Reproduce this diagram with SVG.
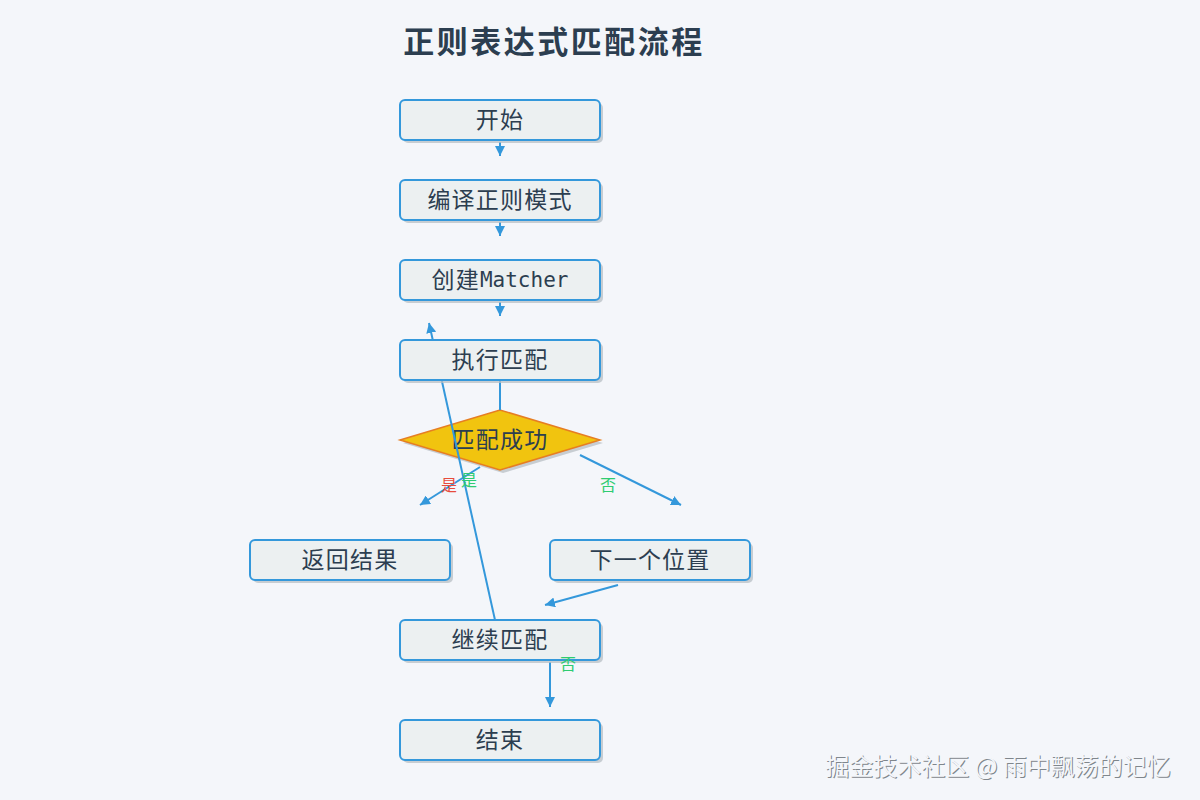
<svg xmlns="http://www.w3.org/2000/svg" width="1200" height="800" viewBox="0 0 1200 800">
<defs>
<marker id="arr" viewBox="0 0 10 10" refX="10" refY="5" markerWidth="10" markerHeight="10" markerUnits="userSpaceOnUse" orient="auto">
<path d="M0,0 L10,5 L0,10 z" fill="#3498db"/>
</marker>
<style>
.box{fill:#ecf0f1;stroke:#3498db;stroke-width:2}
.sh{fill:#b8bfc4;opacity:0.75}
.t{font-family:"DejaVu Sans Mono","Noto Sans CJK SC",monospace;font-size:23px;fill:#2c3e50;text-anchor:middle;dominant-baseline:central;letter-spacing:1.2px}
.ln{fill:none;stroke:#3498db;stroke-width:2}
.lb{font-family:"Noto Sans CJK SC",sans-serif;font-size:16px;text-anchor:middle;dominant-baseline:central}
.wm{font-family:"Noto Sans CJK SC",sans-serif;font-size:24px;text-anchor:middle;dominant-baseline:central}
</style>
</defs>
<rect width="1200" height="800" fill="#f4f6fa"/>
<text x="554" y="39" font-family="Noto Sans CJK SC, sans-serif" font-size="31" font-weight="bold" fill="#2c3e50" text-anchor="middle" dominant-baseline="central" letter-spacing="2.5">正则表达式匹配流程</text>

<g id="n-success"><polygon points="403,443 503,413 603,443 503,473" fill="#b8bfc4" opacity="0.75"/><polygon points="400,440 500,410 600,440 500,470" fill="#f1c40f" stroke="#e67e22" stroke-width="1.5"/><text class="t" x="500" y="440">匹配成功</text></g>

<g id="connectors">
<line class="ln" x1="500" y1="142" x2="500" y2="156" marker-end="url(#arr)"/>
<line class="ln" x1="500" y1="222" x2="500" y2="236" marker-end="url(#arr)"/>
<line class="ln" x1="500" y1="302" x2="500" y2="316" marker-end="url(#arr)"/>
<line class="ln" x1="500" y1="380" x2="500" y2="410"/>
<line class="ln" x1="480" y1="467" x2="420" y2="505" marker-end="url(#arr)"/>
<line class="ln" x1="580" y1="455" x2="681" y2="505" marker-end="url(#arr)"/>
<line class="ln" x1="618" y1="585" x2="545" y2="605" marker-end="url(#arr)"/>
<line class="ln" x1="495" y1="620" x2="429" y2="323" marker-end="url(#arr)"/>
<line class="ln" x1="550" y1="662" x2="550" y2="707" marker-end="url(#arr)"/>
</g>

<g id="n-start"><rect class="sh" x="403" y="103" width="200" height="40" rx="5"/><rect class="box" x="400" y="100" width="200" height="40" rx="5"/><text class="t" x="500" y="120">开始</text></g>
<g id="n-compile"><rect class="sh" x="403" y="183" width="200" height="40" rx="5"/><rect class="box" x="400" y="180" width="200" height="40" rx="5"/><text class="t" x="500" y="200">编译正则模式</text></g>
<g id="n-matcher"><rect class="sh" x="403" y="263" width="200" height="40" rx="5"/><rect class="box" x="400" y="260" width="200" height="40" rx="5"/><text class="t" x="500" y="280">创建<tspan font-size="21" letter-spacing="0">Matcher</tspan></text></g>
<g id="n-exec"><rect class="sh" x="403" y="343" width="200" height="40" rx="5"/><rect class="box" x="400" y="340" width="200" height="40" rx="5"/><text class="t" x="500" y="360">执行匹配</text></g>
<g id="n-return"><rect class="sh" x="253" y="543" width="200" height="40" rx="5"/><rect class="box" x="250" y="540" width="200" height="40" rx="5"/><text class="t" x="350" y="560">返回结果</text></g>
<g id="n-next"><rect class="sh" x="553" y="543" width="200" height="40" rx="5"/><rect class="box" x="550" y="540" width="200" height="40" rx="5"/><text class="t" x="650" y="560">下一个位置</text></g>
<g id="n-continue"><rect class="sh" x="403" y="623" width="200" height="40" rx="5"/><rect class="box" x="400" y="620" width="200" height="40" rx="5"/><text class="t" x="500" y="640">继续匹配</text></g>
<g id="n-end"><rect class="sh" x="403" y="723" width="200" height="40" rx="5"/><rect class="box" x="400" y="720" width="200" height="40" rx="5"/><text class="t" x="500" y="740">结束</text></g>

<g id="connector-labels">
<text class="lb" x="449" y="484" fill="#e74c3c">是</text>
<text class="lb" x="469" y="479" fill="#2ecc71">是</text>
<text class="lb" x="608" y="484" fill="#2ecc71">否</text>
<text class="lb" x="568" y="663" fill="#2ecc71">否</text>
</g>

<text class="wm" x="999" y="765" fill="#7f868c">掘金技术社区 @ 雨中飘荡的记忆</text>
<text class="wm" x="998" y="764" fill="#f4f6fa">掘金技术社区 @ 雨中飘荡的记忆</text>
</svg>
